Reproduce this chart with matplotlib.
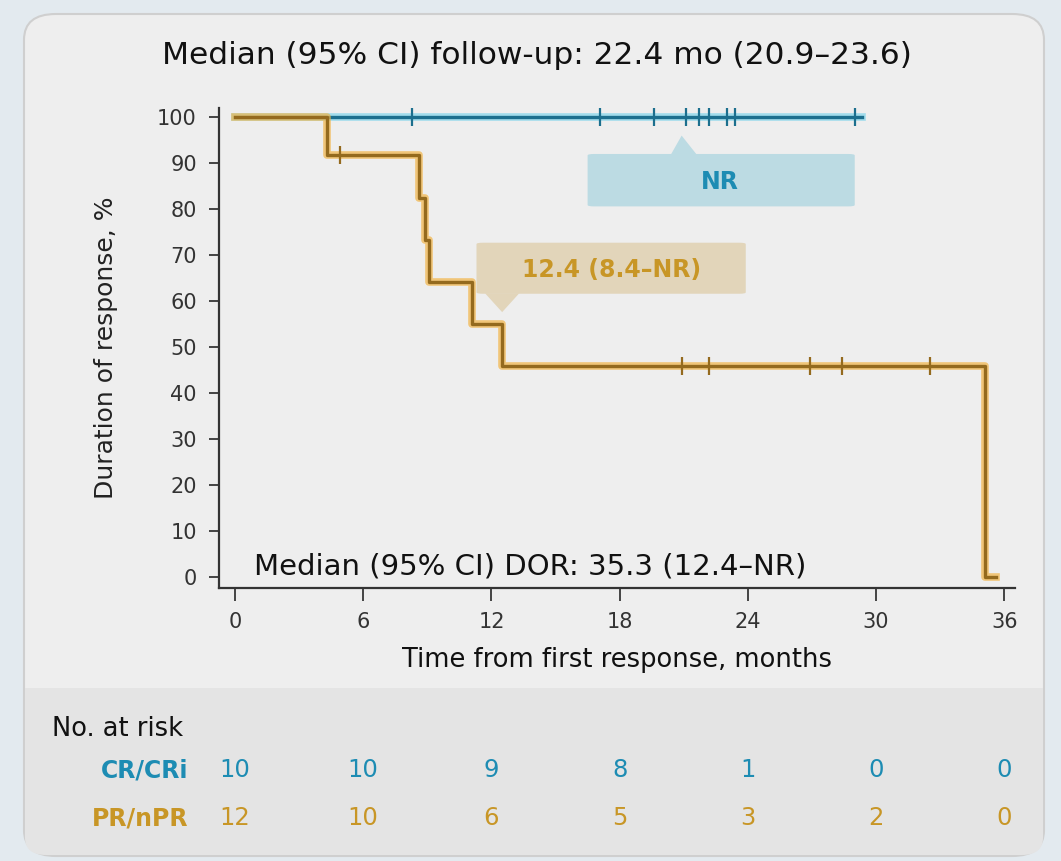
import matplotlib
matplotlib.use('Agg')
import matplotlib.pyplot as plt
import matplotlib.patheffects as pe
from matplotlib.patches import FancyBboxPatch, Polygon, Rectangle

# CR/CRi curve (no events)
cr_times = [0, 29.35]
cr_surv = [100, 100]
cr_censor = [8.3, 17.1, 19.6, 21.1, 21.7, 22.2, 23.0, 23.4, 29.0]

# PR/nPR curve
pr_times = [0, 4.3, 8.6, 8.9, 9.1, 11.1, 12.5, 35.1, 35.6]
pr_surv = [100, 91.7, 82.5, 73.3, 64.2, 55.0, 45.8, 0, 0]
pr_censor_t = [4.9, 20.9, 22.2, 26.9, 28.4, 32.5]
pr_censor_s = [91.7, 45.8, 45.8, 45.8, 45.8, 45.8]

risk_times = [0, 6, 12, 18, 24, 30, 36]
risk_cr = [10, 10, 9, 8, 1, 0, 0]
risk_pr = [12, 10, 6, 5, 3, 2, 0]

blue = '#1c6f8e'
blue_halo = '#6fd0ea'
gold = '#946a1e'
gold_halo = '#f2b446'
blue_txt = '#1d8cb3'
gold_txt = '#c89626'

W, H = 1061, 861
fig = plt.figure(figsize=(W / 100, H / 100), dpi=100)
fig.patch.set_facecolor('#e3eaef')

def fx(px):
    return px / W

def fy(py):
    return 1 - py / H

# card background
card = FancyBboxPatch((fx(24), fy(856)), fx(1044) - fx(24), fy(14) - fy(856),
                      boxstyle='round,pad=0,rounding_size=0.03',
                      transform=fig.transFigure, facecolor='#eeeeee',
                      edgecolor='#cfcfcf', lw=1.5, zorder=-3)
fig.patches.append(card)
risk_bg = FancyBboxPatch((fx(25), fy(855)), fx(1043) - fx(25), fy(688) - fy(855),
                         boxstyle='round,pad=0,rounding_size=0.02',
                         transform=fig.transFigure, facecolor='#e4e4e4',
                         edgecolor='none', zorder=-2)
fig.patches.append(risk_bg)
fig.patches.append(Rectangle((fx(25), fy(720)), fx(1043) - fx(25), fy(688) - fy(720),
                             transform=fig.transFigure, facecolor='#e4e4e4',
                             edgecolor='none', zorder=-1))

ax = fig.add_axes([fx(219), fy(588), fx(1015) - fx(219), fy(108) - fy(588)])
ax.set_facecolor('none')
ax.set_xlim(-0.75, 36.5)
ax.set_ylim(-2.4, 102)

halo_b = [pe.Stroke(linewidth=5.5, foreground=blue_halo, alpha=0.6), pe.Normal()]
halo_g = [pe.Stroke(linewidth=5.5, foreground=gold_halo, alpha=0.7), pe.Normal()]

ax.step(cr_times, cr_surv, where='post', color=blue, lw=2.4, path_effects=halo_b, zorder=3)
ax.step(pr_times, pr_surv, where='post', color=gold, lw=2.4, path_effects=halo_g, zorder=4)
ax.plot(cr_censor, [100] * len(cr_censor), ls='none', marker='|', ms=13, mew=1.6,
        color=blue, zorder=5)
ax.plot(pr_censor_t, pr_censor_s, ls='none', marker='|', ms=13, mew=1.6,
        color=gold, zorder=5)

for s in ['top', 'right']:
    ax.spines[s].set_visible(False)
for s in ['left', 'bottom']:
    ax.spines[s].set_color('#333333')
    ax.spines[s].set_linewidth(1.6)

ax.set_xticks(risk_times)
ax.set_yticks(range(0, 101, 10))
ax.tick_params(axis='both', direction='out', width=1.4, color='#444444',
               labelsize=15, labelcolor='#333333')
ax.tick_params(axis='y', length=7, pad=9)
ax.tick_params(axis='x', length=9, pad=8)
ax.set_ylabel('Duration of response, %', fontsize=18, color='#222222', labelpad=28)
ax.set_xlabel('Time from first response, months', fontsize=18.5, color='#111111', labelpad=11)

ax.text(0.9, 0.6, 'Median (95% CI) DOR: 35.3 (12.4\u2013NR)', fontsize=21,
        color='#111111', va='baseline', ha='left')

# NR call-out box
ax.add_patch(FancyBboxPatch((16.5, 80.6), 12.5, 11.4,
                            boxstyle='round,pad=0,rounding_size=0.3',
                            facecolor='#bcdbe3', edgecolor='none', zorder=2))
ax.add_patch(Polygon([[20.4, 91.9], [21.6, 91.9], [20.9, 96.0]], closed=True,
                     facecolor='#bcdbe3', edgecolor='none', zorder=2))
ax.text(22.7, 85.8, 'NR', color=blue_txt, fontsize=17, fontweight='bold',
        ha='center', va='center', zorder=6)

# PR/nPR call-out box
ax.add_patch(FancyBboxPatch((11.3, 61.6), 12.6, 11.1,
                            boxstyle='round,pad=0,rounding_size=0.3',
                            facecolor='#e2d5ba', edgecolor='none', zorder=2))
ax.add_patch(Polygon([[11.7, 61.7], [13.3, 61.7], [12.5, 57.6]], closed=True,
                     facecolor='#e2d5ba', edgecolor='none', zorder=2))
ax.text(17.6, 66.8, '12.4 (8.4\u2013NR)', color=gold_txt, fontsize=17,
        fontweight='bold', ha='center', va='center', zorder=6)

fig.text(fx(537), fy(55), 'Median (95% CI) follow-up: 22.4 mo (20.9\u201323.6)',
         fontsize=22.5, color='#111111', ha='center', va='center')

# risk table
fig.text(fx(52), fy(729), 'No. at risk', fontsize=18.5, color='#111111',
         ha='left', va='center')
fig.text(fx(188), fy(770), 'CR/CRi', fontsize=17, color=blue_txt,
         fontweight='bold', ha='right', va='center')
fig.text(fx(188), fy(818), 'PR/nPR', fontsize=17, color=gold_txt,
         fontweight='bold', ha='right', va='center')
for t, a, b in zip(risk_times, risk_cr, risk_pr):
    xp = ax.transData.transform((t, 0))[0] / W
    fig.text(xp, fy(770), str(a), fontsize=17.5, color=blue_txt,
             ha='center', va='center')
    fig.text(xp, fy(818), str(b), fontsize=17.5, color=gold_txt,
             ha='center', va='center')

plt.savefig('out.png', dpi=100, facecolor=fig.get_facecolor())
